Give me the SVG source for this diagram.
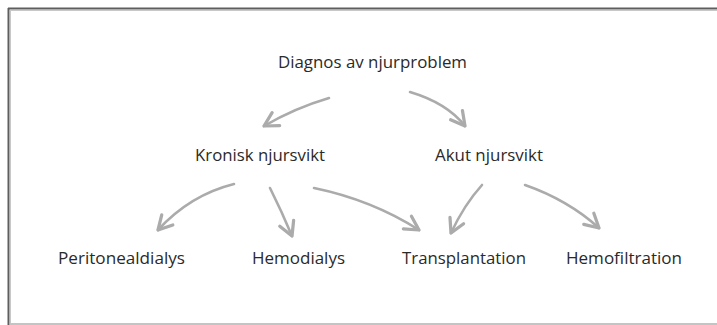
<svg xmlns="http://www.w3.org/2000/svg" width="717" height="325" viewBox="0 0 717 325">
<defs>
<style>
.lbl{font-family:"Open Sans","Liberation Sans",sans-serif;font-size:15.5px;fill:#2a2a2a;}
.arr{fill:none;stroke:#ababab;stroke-width:2.6;stroke-linecap:round;stroke-linejoin:round;}
</style>
<marker id="head" markerUnits="userSpaceOnUse" markerWidth="20" markerHeight="20" refX="13" refY="8" orient="auto" viewBox="0 0 16 16">
<path d="M2,2 L13,8 L2,14" fill="none" stroke="#ababab" stroke-width="2.6" stroke-linecap="round" stroke-linejoin="round"/>
</marker>
</defs>
<rect width="717" height="325" fill="#ffffff"/>
<g id="frame">
<line x1="8" y1="8.5" x2="717" y2="8.5" stroke="#5e5e5e" stroke-width="2"/>
<line x1="8.5" y1="8" x2="8.5" y2="325" stroke="#5e5e5e" stroke-width="2"/>
<line x1="10" y1="10.5" x2="717" y2="10.5" stroke="#c8c8c8" stroke-width="1"/>
<line x1="10.5" y1="10" x2="10.5" y2="325" stroke="#c8c8c8" stroke-width="1"/>
<line x1="10" y1="324" x2="717" y2="324" stroke="#c4c4c4" stroke-width="2"/>
</g>
<g id="connectors">
<path class="arr" d="M329,98 Q295,108 264,126" marker-end="url(#head)"/>
<path class="arr" d="M410,92 Q447,103 465,126" marker-end="url(#head)"/>
<path class="arr" d="M234,184 Q190,195 158,230" marker-end="url(#head)"/>
<path class="arr" d="M270,188 Q282,212 292,236" marker-end="url(#head)"/>
<path class="arr" d="M314,188 Q372,200 419,230" marker-end="url(#head)"/>
<path class="arr" d="M482,185 Q464,205 451,233" marker-end="url(#head)"/>
<path class="arr" d="M525,185 Q568,200 599,228" marker-end="url(#head)"/>
</g>
<g id="n-diagnos"><text class="lbl" x="278" y="68" textLength="189" lengthAdjust="spacingAndGlyphs">Diagnos av njurproblem</text></g>
<g id="n-kronisk"><text class="lbl" x="195" y="161" textLength="130" lengthAdjust="spacingAndGlyphs">Kronisk njursvikt</text></g>
<g id="n-akut"><text class="lbl" x="435" y="161" textLength="108" lengthAdjust="spacingAndGlyphs">Akut njursvikt</text></g>
<g id="n-peritoneal"><text class="lbl" x="58" y="264" textLength="127" lengthAdjust="spacingAndGlyphs">Peritonealdialys</text></g>
<g id="n-hemodialys"><text class="lbl" x="252" y="264" textLength="93" lengthAdjust="spacingAndGlyphs">Hemodialys</text></g>
<g id="n-transplantation"><text class="lbl" x="402" y="264" textLength="124" lengthAdjust="spacingAndGlyphs">Transplantation</text></g>
<g id="n-hemofiltration"><text class="lbl" x="566" y="264" textLength="116" lengthAdjust="spacingAndGlyphs">Hemofiltration</text></g>
</svg>
